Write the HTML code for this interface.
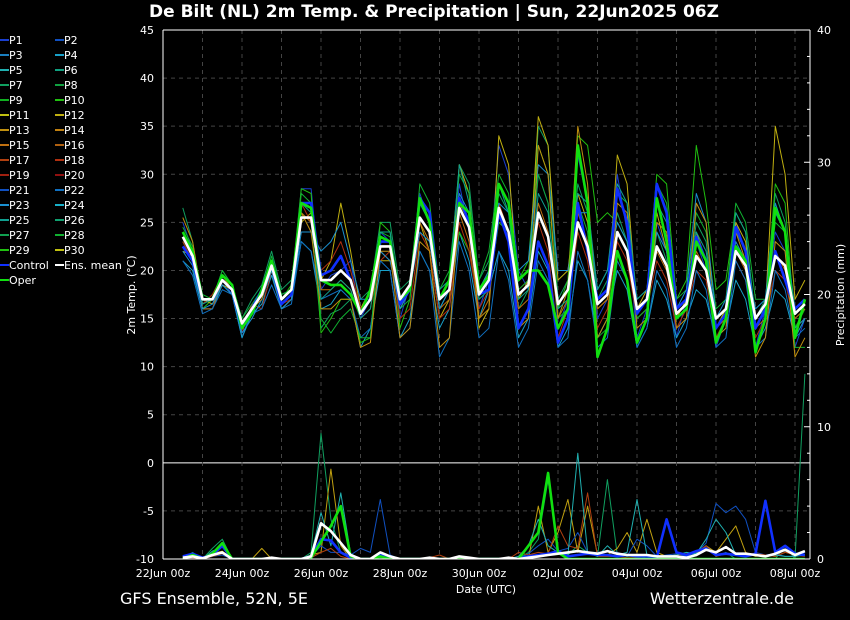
<!DOCTYPE html>
<html><head><meta charset="utf-8">
<style>
body{margin:0;background:#000;width:850px;height:620px;overflow:hidden;font-family:"DejaVu Sans","Liberation Sans",sans-serif;}
svg{position:absolute;left:0;top:0}
</style></head>
<body>
<svg id="chart" width="850" height="620"></svg>
<script>
const xLabels=["22Jun 00z","24Jun 00z","26Jun 00z","28Jun 00z","30Jun 00z","02Jul 00z","04Jul 00z","06Jul 00z","08Jul 00z"];
const tempTicks=[-10,-5,0,5,10,15,20,25,30,35,40,45];
const precTicks=[0,10,20,30,40];
const ensMean=[23.5,21.5,17,17,19,18,14.5,16,17.5,20.5,17,18,25.5,25.5,19,19,20,19,15.5,17,22.5,22.5,17,18.5,25.5,24,17,18,26.5,24.5,17.5,19,26.5,24,17.5,18.5,26,23.5,16.5,18,25,22.5,16.5,17.5,24,22,16,17,22.5,20.5,15.5,16.5,21.5,20,15,16,22,20.5,15,16.5,21.5,20.5,15.5,16.5];
const oper=[24,22,17,17,19.5,18.5,14,15.5,18,21,17,18,27,26.5,19,18.5,18.5,17.5,15.5,18,23.5,23,17,18,27.5,25,17,19,27,26,18,19.5,29,27,19,20,20,18.5,14,16,33,27,11,14,22,19,12.5,15,27.5,23,15,16,23,21,12.5,15,22.5,21,11.5,15,26.5,24,13,17];
const control=[22.5,21,17,17,19,18,14,16,18,20.5,16.5,17.5,27,27,19.5,20,21.5,19,15.5,17,23,23,16.5,18,27.5,26,17,18,27.5,25,17.5,18,26,23,14,16,23,20.5,12.5,15,27,22,17,18,28.5,25,15.5,17,29,26,16,17,23.5,21,14,15.5,24.5,22,14,16,22,19,16,17];
const mem=[
[25,22,17,16.5,19,17.5,13,16,17,21,17.5,18,28.5,28.5,18,19.5,20,21,15,17,24,23,15,18.5,28,25,16,18,29,24,16,19,33,30,20,18,30,27,14,17,32,27,15,17,30,24,13,16,25,22,13,17,23,20,12,15,25,22,12,16,24,22,12,15],
[21,20,16,16,18.5,17.5,13,15.5,16.5,19.5,16,17,23,22,16,16.5,18,17,12,14,20,20,13,15,22,20,14,16,24,21,15,18,22,20,13,15,22,20,12,14,21,19,13,15,20,18,12,14,19,17,13,15,18,17,13,14,19,17,12,14,18,17,13,15],
[26.5,23,16.5,17,20,18.5,15,17,18.5,22,18,19,26,25,14,15.5,16,17,17,18,25,25,18,19,27,26,18,19,31,29,19,21,28,26,16,18,35,33,17,19,29,26,17,19,26,23,15,16,24,21,16,17,25,23,14,16,24,22,15,17,28,25,14,16],
[23,21,16,17,19,18,14,16,17.5,21,17,18.5,28.5,28,13.5,15,17,17,12.5,13,25,24,14,17,27,25,16,18,24,22,17,18,25,24,19,21,33,30,16,19,34,33,25,26,25,23,17,18,30,29,17,19,33,27,18,19,26,24,14,16,29,27,14,16],
[22,21.5,17,16.5,18.5,18,14,16,18,20,16,17,25,26,19,21,27,22,16,18,21,21,17,18,25,22,15,17,31,28,14,16,34,31,17,19,36,33,19,20,28,25,16,17,32,29,16,18,26,22,15,17,24,21,14,16,25,23,14,16,35,30,17,19],
[24,22,16,16,19,18,14.5,16,18,21,17,18,26,25,18,18,19,18,15,16,22,21,16,18,25,23,16,17,26,23,15,17,27,24,16,17,27,24,15,17,26,23,16,17,24,22,16,17,22,20,15,16,22,20,14,15,22,20,14,15,22,20,15,16],
[23,21,16.5,17.5,19.5,18,13.5,16.5,16,20,16.5,17,27,25,20,21,23,20,16,17,21,22,15,16,24,22,15,16,25,22,16,18,27,24,18,19,25,22,13,16,24,21,14,16,23,21,15,16,21,19,14,16,20,19,13,15,21,19,13,15,20,19,14,15],
[21,19.5,15.5,16,18,17.5,14,15.5,16,18.5,16,16.5,23,22,17,17.5,18,17,13,14,21,20,13,14,22,20,11,13,23,20,13,14,22,19,12,14,21,19,12,13,22,19,12,13,21,19,12,14,20,18,12,14,20,18,12,13,21,19,12,13,20,18,13,14],
[24.5,22.5,17.5,17,20,18.5,15,16.5,18,21.5,17.5,18,28,27,15,13.5,15,16,13,13,24,23.5,16,17,29,27,18,20,30,28,19,22,30,28,18,19,30,27,15,16,27,24,13,14,28,27,15,16,29,27,17,18,26,24,16,17,27,25,17,17,25,24,12,12],
[22,20.5,16,16.5,18.5,17.5,13.5,15,17,20,16,17,24,24,22,23,25,21,17,17,22,21,16,18,24,23,16,18,28,26,18,20,27,26,20,21,31,30,20,20,26,26,18,20,25,23,17,18,24,22,16,18,28,25,15,17,23,21,16,17,27,24,14,15],
[25.5,23,17,17,19.5,18,14,16,17,20.5,17,18,26,24,16,16,17,17,12,12.5,22,22,13,14,23,22,12,13,27,25,15,16,29,27,14,15,33,30,15,18,35,29,13,15,27,26,14,15,25,24,14,15,27,25,13,14,24,21,11,13,23,22,11,13],
[23.5,21.5,16.5,17,19,18,14,16,18,20,17,18,27,26,17,18,19,18,15,16,24,24,17,18,27,25,18,19,31,27,17,18,29,26,17,18,28,26,16,17,28,27,18,20,29,27,17,18,27,25,16,17,24,22,15,16,26,24,15,16,26,24,16,17]
];
const memColor=["#1a3fd0","#18a0c8","#10a060","#20c010","#c0b010","#c07010","#b03010","#1070c0","#10b030","#1a90d0","#c09010","#10a090"];
const precMean=[0.1,0.2,0.05,0.3,0.5,0,0,0,0,0.1,0,0,0,0.2,2.7,2.1,1.2,0.3,0,0,0.5,0.2,0,0,0,0.1,0,0,0.2,0.1,0,0,0,0.1,0,0.1,0.2,0.3,0.4,0.5,0.6,0.5,0.4,0.6,0.4,0.3,0.3,0.3,0.2,0.2,0.2,0.1,0.3,0.7,0.5,0.9,0.4,0.4,0.3,0.2,0.4,0.7,0.3,0.6];
const precOper=[0,0.3,0,0.4,1.2,0,0,0,0,0,0,0,0,0.1,1.3,2.5,4,0.2,0,0,0.2,0,0,0,0,0,0,0,0,0,0,0,0,0,0,1,2,6.5,0.5,0,0,0,0,0,0,0,0,0,0,0,0,0,0,0,0,0,0,0,0,0,0,0,0,0];
const precControl=[0.2,0.4,0.1,0.3,1,0,0,0,0,0,0,0,0,0.2,1.5,1.4,0.5,0.1,0,0,0.3,0,0,0,0,0,0,0,0,0,0,0,0,0,0,0.2,0.3,0.4,0.6,0.2,0.3,0.4,0.3,0.3,0.2,0.3,0.2,0.2,0.1,3,0.5,0.3,0.6,0.8,0.3,0.4,0.3,0.2,0.4,4.4,0.5,1,0.4,0.3];
const precMem=[
[0,0.5,0,0.8,1.5,0,0,0,0,0,0,0,0,0.5,9.5,3,0.5,0,0,0,0.1,0,0,0,0,0.1,0,0,0,0,0,0,0,0,0,0.5,1.5,6,0.5,0.3,1,0.5,0.2,6,0.3,0.2,0.3,0,0,0,0,0,0.5,1,0.2,0.5,0,0,0,0,0,1,0,14],
[0,0.2,0,0.4,0.6,0,0,0,0.8,0,0,0,0,0.3,0.5,6.8,1,0,0,0,0.2,0,0,0,0,0,0,0,0,0,0,0,0,0,0,0,4,0.5,2,4.5,0.5,4,0.3,0.3,0.8,2,0.5,3,0.5,0.2,0.3,0,0.4,1,0.5,1.5,2.5,0.5,0.2,0.3,0.2,0.5,0.4,0.3],
[0,0.1,0,0.2,0.3,0,0,0,0,0,0,0,0,0.2,1,0.5,0.5,0.3,0.8,0.5,4.5,0.3,0,0,0,0,0,0,0,0,0,0,0,0,0,0.4,1,1.5,0.6,0.8,2,0.5,0.5,0.6,0.5,0.2,1.5,1,0.2,0.3,0.4,0.2,0.5,1.2,4.2,3.5,4,3,0.5,0.3,0.4,0.2,0.2,0.5],
[0.1,0.1,0,0.2,0.4,0,0,0,0,0,0,0,0,0.1,0.5,0.8,0.2,0,0,0,0,0.1,0,0,0,0.1,0.3,0,0,0,0,0,0,0,0.5,0.3,0.5,0.4,2.5,1,0.8,5,0.2,0.2,0.2,0.1,0.1,0,0.2,0.2,0.3,0.4,0.5,1,0.2,0.4,0.4,0.3,0.4,0.3,0.2,0.5,0.3,0.2],
[0,0.3,0,0.6,0.9,0,0,0,0,0,0,0,0,0.3,3.5,1,5,0.4,0,0,0.3,0,0,0,0,0,0,0,0,0,0,0,0,0,0.2,1,3,1,0.5,0.3,8,0.5,0.2,1,0.3,0.5,4.5,0.3,0.2,0.2,0.3,0.5,0.4,1.5,3,2,0.3,0.2,0.3,0.2,0.3,0.2,0.2,0.3]
];
const precMemColor=["#10a060","#c0a010","#1050c0","#b04010","#20b0b0"];

const NS="http://www.w3.org/2000/svg";
const svg=document.getElementById('chart');
const X0=163,X1=810,Y0=30,Y1=559;
const DAYPX=39.5;
function xPos(i){return X0+DAYPX*0.5+i*DAYPX/4;}
function yT(v){return Y1-(v+10)/55*(Y1-Y0);}
function yP(v){return Y1-v/40*(Y1-Y0);}
function mk(tag,attrs,parent){const e=document.createElementNS(NS,tag);for(const k in attrs)e.setAttribute(k,attrs[k]);(parent||svg).appendChild(e);return e;}

let t=mk('text',{x:434,y:17,fill:'#fff','font-size':17,'font-weight':'bold','text-anchor':'middle'});


t.textContent="De Bilt  (NL)  2m Temp. & Precipitation | Sun, 22Jun2025 06Z";

const grid=mk('g',{});


tempTicks.forEach(v=>{mk('line',{x1:X0,x2:X1,y1:yT(v),y2:yT(v),stroke:v===0?'#fff':'#444','stroke-dasharray':v===0?'':'4,4','stroke-width':1},grid);});
for(let d=1;d<17;d++){const x=X0+d*DAYPX;mk('line',{x1:x,x2:x,y1:Y0,y2:Y1,stroke:'#444','stroke-dasharray':'4,4'},grid);}

const defs=mk('defs',{});
const cp=mk('clipPath',{id:'pc'},defs);mk('rect',{x:X0,y:Y0,width:X1-X0,height:Y1-Y0},cp);
const plot=mk('g',{'clip-path':'url(#pc)'});


function line(arr,yf,color,w,name){
  const pts=arr.map((v,i)=>xPos(i).toFixed(1)+','+yf(v).toFixed(1)).join(' ');
  const p=mk('polyline',{points:pts,fill:'none',stroke:color,'stroke-width':w,'stroke-linejoin':'round'},plot);
  
  
}
mem.forEach((a,k)=>line(a,yT,memColor[k],1,'temp-member-'+(k+1)));
precMem.forEach((a,k)=>line(a,yP,precMemColor[k],1,'precip-member-'+(k+1)));
line(control,yT,'#1030ff',2.6,'temp-control');
line(oper,yT,'#10e010',2.6,'temp-oper');
line(ensMean,yT,'#ffffff',2.6,'temp-ens-mean');
line(precControl,yP,'#1030ff',2.6,'precip-control');
line(precOper,yP,'#10e010',2.6,'precip-oper');
line(precMean,yP,'#ffffff',2.6,'precip-ens-mean');

const ax=mk('g',{});


mk('line',{x1:X0,x2:X0,y1:Y0,y2:Y1,stroke:'#fff'},ax);
mk('line',{x1:X1,x2:X1,y1:Y0,y2:Y1,stroke:'#fff'},ax);
mk('line',{x1:X0,x2:X1,y1:Y1,y2:Y1,stroke:'#fff'},ax);
mk('line',{x1:X0,x2:X1,y1:Y0,y2:Y0,stroke:'#fff'},ax);
tempTicks.forEach(v=>{const e=mk('text',{x:154,y:yT(v)+4,fill:'#fff','font-size':11,'text-anchor':'end'},ax);


e.textContent=v;});
precTicks.forEach(v=>{const e=mk('text',{x:817,y:yP(v)+4,fill:'#fff','font-size':11},ax);


e.textContent=v;});
for(let v=0;v<=40;v+=2){const y=yP(v);mk('line',{x1:X1-(v%10?3:6),x2:X1,y1:y,y2:y,stroke:'#fff'},ax);}
xLabels.forEach((s,i)=>{const x=X0+i*2*DAYPX;const e=mk('text',{x:x,y:577,fill:'#fff','font-size':11,'text-anchor':'middle'},ax);


e.textContent=s;});
let e=mk('text',{x:486,y:593,fill:'#fff','font-size':11,'text-anchor':'middle'},ax);


e.textContent="Date (UTC)";
e=mk('text',{x:0,y:0,fill:'#fff','font-size':11,'text-anchor':'middle',transform:'translate(135,295) rotate(-90)'},ax);


e.textContent="2m Temp. (°C)";
e=mk('text',{x:0,y:0,fill:'#fff','font-size':11,'text-anchor':'middle',transform:'translate(844,295) rotate(-90)'},ax);


e.textContent="Precipitation (mm)";
e=mk('text',{x:120,y:604,fill:'#fff','font-size':16});


e.textContent="GFS Ensemble, 52N, 5E";
e=mk('text',{x:794,y:604,fill:'#fff','font-size':16,'text-anchor':'end'});


e.textContent="Wetterzentrale.de";

const legNames=[];const legColors=["#1a3fd0","#1050c0","#1a7fc0","#18a0c8","#20b0b0","#10a080","#10a060","#10a040","#10b020","#20c010","#c0c010","#c0b010","#c09010","#c08010","#c07010","#b06010","#b04010","#b03010","#a02010","#901010","#1050c0","#1070c0","#1a90d0","#18b0c8","#10a090","#10a070","#10a050","#10b030","#20c010","#c0c010"];
for(let i=1;i<=30;i++)legNames.push('P'+i);
legNames.push('Control','Ens. mean','Oper');legColors.push('#1030ff','#ffffff','#10e010');
const leg=mk('g',{});


legNames.forEach((n,i)=>{const col=i%2,row=Math.floor(i/2);const x=col?55:0,y=40+row*15;
const g=mk('g',{},leg);


mk('line',{x1:x,x2:x+9,y1:y,y2:y,stroke:legColors[i],'stroke-width':2},g);
const tx=mk('text',{x:x+9,y:y+4,fill:'#fff','font-size':11},g);tx.textContent=n;});
</script>
</body></html>
